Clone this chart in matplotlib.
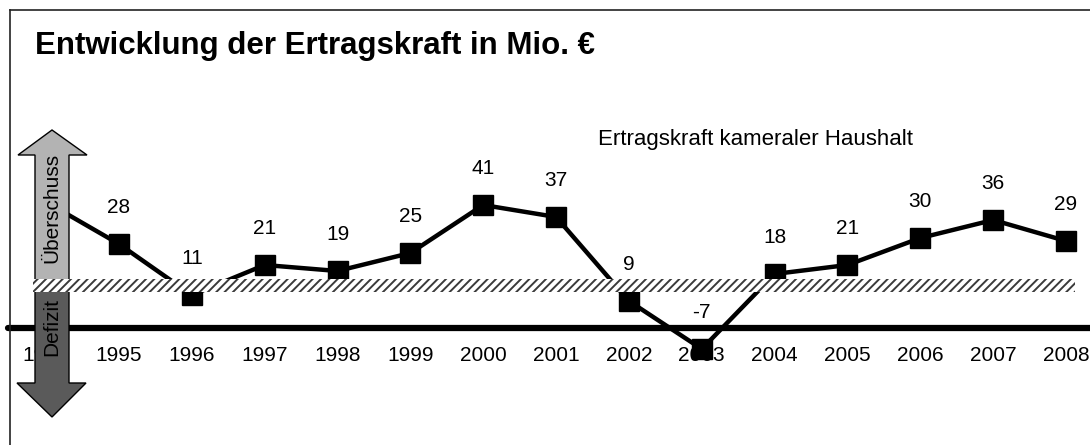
import matplotlib
matplotlib.use("Agg")
import matplotlib.pyplot as plt
from matplotlib.patches import Polygon, Rectangle

plt.rcParams['font.family'] = ['Liberation Sans', 'DejaVu Sans']
plt.rcParams['hatch.linewidth'] = 1.4
plt.rcParams['hatch.color'] = '#3a3a3a'

# data
years = [1994, 1995, 1996, 1997, 1998, 1999, 2000, 2001, 2002, 2003, 2004, 2005, 2006, 2007, 2008]
values = [42, 28, 11, 21, 19, 25, 41, 37, 9, -7, 18, 21, 30, 36, 29]
year_labels = [str(y) for y in years]
series_name = "Ertragskraft kameraler Haushalt"
title = "Entwicklung der Ertragskraft in Mio. €"
up_label = "Überschuss"
down_label = "Defizit"

W, H = 1090, 445
fig = plt.figure(figsize=(W / 100, H / 100), dpi=100)
ax = fig.add_axes([0, 0, 1, 1])
ax.set_xlim(1993.367, 2008.329)
ax.set_ylim(-39.0, 109.33)
ax.axis('off')


def fx(px, py):
    # pixel position -> figure fraction
    return (px / W, 1 - py / H)


# outer frame (left + top only)
fig.add_artist(plt.Line2D([10 / W, 10 / W], [0, 1 - 10 / H], transform=fig.transFigure, color='#222222', lw=1.2))
fig.add_artist(plt.Line2D([10 / W, 1], [1 - 10 / H, 1 - 10 / H], transform=fig.transFigure, color='#222222', lw=1.2))

fig.text(*fx(35, 46), title, fontsize=22.5, fontweight='bold', va='center', ha='left')
fig.text(*fx(598, 140), series_name, fontsize=16, va='center', ha='left')

# zero line
ax.plot([1993.47, 2008.329], [0, 0], color='black', lw=4.5, solid_capstyle='round', zorder=1)

# series
ax.plot(years, values, color='black', lw=3.2, marker='s', markersize=14.5, zorder=2)

for yr, v, lab in zip(years, values, year_labels):
    ax.annotate(str(v), (yr, v), xytext=(0, 26), textcoords='offset points',
                ha='center', va='center', fontsize=15, zorder=1.5)
    ax.annotate(lab, (yr, 0), xytext=(0, -19.5), textcoords='offset points',
                ha='center', va='center', fontsize=15, zorder=1.5)

# arrows
up = [(35, 282), (35, 155), (18, 155), (52, 130), (87, 155), (69, 155), (69, 282)]
down = [(35, 290), (35, 383), (17, 383), (52, 417), (86, 383), (69, 383), (69, 290)]
fig.add_artist(Polygon([fx(*p) for p in up], closed=True, transform=fig.transFigure,
                       facecolor='#b3b3b3', edgecolor='black', lw=1.0, zorder=3))
fig.add_artist(Polygon([fx(*p) for p in down], closed=True, transform=fig.transFigure,
                       facecolor='#5a5a5a', edgecolor='black', lw=1.0, zorder=3))
fig.text(*fx(52, 208), up_label, rotation=90, fontsize=15, ha='center', va='center', zorder=4)
fig.text(*fx(52, 327), down_label, rotation=90, fontsize=15, ha='center', va='center', zorder=4)

# hatched break band
x0, y0 = fx(33, 292)
x1, y1 = fx(1075, 279)
fig.add_artist(Rectangle((x0, y0), x1 - x0, y1 - y0, transform=fig.transFigure,
                         facecolor='white', edgecolor='#3a3a3a', hatch='////', lw=0, zorder=5))

fig.savefig('out.png', dpi=100)
